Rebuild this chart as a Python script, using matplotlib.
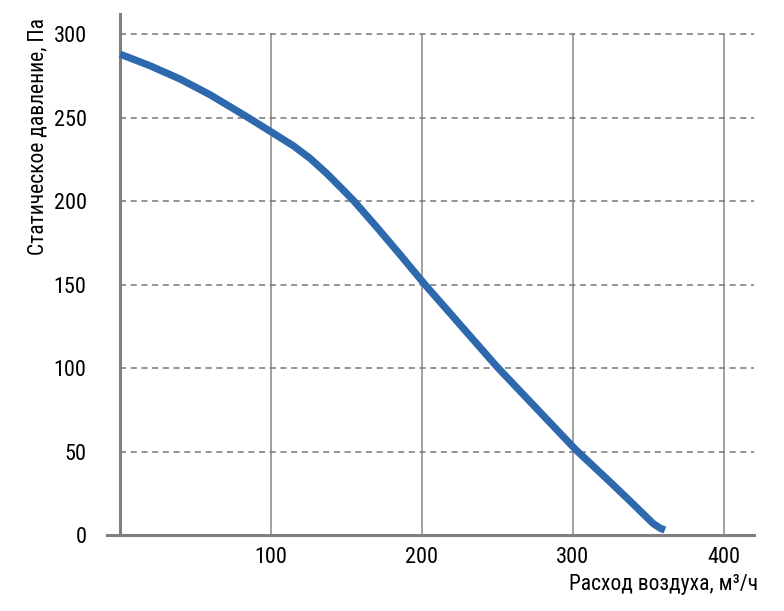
import numpy as np
import matplotlib.pyplot as plt

plt.rcParams['font.family'] = ['Roboto Condensed', 'DejaVu Sans']

# fan curve
flow = [0, 20, 40, 60, 84, 100, 115, 126, 137, 148, 155, 170, 185, 202,
        250, 302, 325, 340, 353, 358, 361]
pressure = [288, 281, 273, 263.5, 250.5, 241.5, 233, 225.5, 216.5, 206.5, 200,
            184.5, 168.5, 150, 100.5, 51, 31.5, 18.5, 7, 4, 3]

xticks = [100, 200, 300, 400]
yticks = [0, 50, 100, 150, 200, 250, 300]

fig = plt.figure(figsize=(7.84, 6.11), dpi=100)
ax = fig.add_axes([0.1365, 0.1244, 0.8252, 0.8526])

ax.set_xlim(-8.6, 420)
ax.set_ylim(0, 312)

# grid: solid verticals, dashed horizontals
ax.vlines(xticks, 0, 300, color='#9a9a9a', lw=1.3, zorder=1)
ax.hlines(yticks[1:], 0, 420, color='#777777', lw=1.1,
          linestyles=(0, (4, 3)), zorder=1)

ax.plot(flow, pressure, color='#2e69ad', lw=5.2, solid_capstyle='butt',
        solid_joinstyle='round', zorder=3)

for s in ['top', 'right']:
    ax.spines[s].set_visible(False)
ax.spines['left'].set_position(('data', 0))
ax.spines['left'].set_color('#808080')
ax.spines['left'].set_linewidth(2.2)
ax.spines['bottom'].set_color('#808080')
ax.spines['bottom'].set_linewidth(2.2)

ax.set_xticks(xticks)
ax.set_yticks(yticks)
ax.tick_params(axis='both', length=0, labelsize=16, colors='black')
ax.tick_params(axis='y', pad=24)
ax.tick_params(axis='x', pad=9)

fig.text(758 / 784, 21 / 611, 'Расход воздуха, м³/ч', ha='right',
         va='baseline', fontsize=15.5)
fig.text(38 / 784, 1 - 18 / 611, 'Статическое давление, Па', rotation=90,
         ha='center', va='top', fontsize=15.5)

fig.savefig('out.png', dpi=100)
